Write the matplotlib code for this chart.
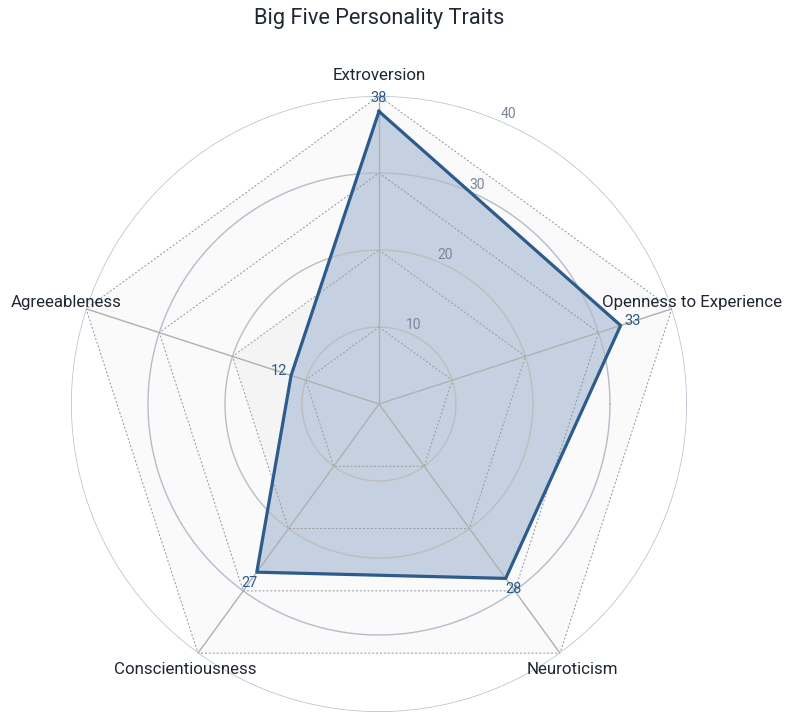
"""Radar chart of Big Five personality trait scores."""

import numpy as np
import matplotlib.pyplot as plt

plt.rcParams["font.family"] = ["Roboto", "DejaVu Sans"]

TRAITS = ["Extroversion", "Openness to Experience", "Neuroticism",
          "Conscientiousness", "Agreeableness"]
SCORES = [38, 33, 28, 27, 12]
RING_LEVELS = [10, 20, 30, 40]
RING_LABELS = ["10", "20", "30", "40"]

LINE_COLOUR = "#2c5b8c"
FILL_COLOUR = "#c5d1e0"
TEXT_COLOUR = "#1f2733"
TICK_COLOUR = "#7a869c"


def trait_angles(count):
    """Angles (radians) running clockwise from the top."""
    return np.pi / 2 - np.arange(count) * 2 * np.pi / count


def main():
    figure = plt.figure(figsize=(7.93, 7.24), dpi=100)
    axes = figure.add_axes([0.0895, 0.0166, 0.7768, 0.8508], projection="polar")
    axes.set_ylim(0, 40)
    axes.axis("off")

    angles = trait_angles(len(TRAITS))
    closed = np.append(angles, angles[0])
    full_circle = np.linspace(0, 2 * np.pi, 361)

    # pentagon bands
    axes.fill(closed, [40] * len(closed), color="#fafafa", zorder=0, lw=0)
    axes.fill(closed, [20] * len(closed), color="#f4f4f4", zorder=0, lw=0)

    scores_closed = SCORES + SCORES[:1]
    axes.fill(closed, scores_closed, color=FILL_COLOUR, zorder=1, lw=0)

    for level in RING_LEVELS:
        ring_colour = "#b4bccb" if level >= 30 else "#bdbdbd"
        axes.plot(full_circle, [level] * len(full_circle), color=ring_colour,
                  lw=1.0, zorder=2)
        pentagon_colour = "#8a94a8" if level >= 30 else "#9a9a9a"
        axes.plot(closed, [level] * len(closed), color=pentagon_colour,
                  lw=0.7, ls=(0, (2, 2)), zorder=2)

    for angle in angles:
        axes.plot([angle, angle], [0, 40], color="#b0b0b0", lw=1.0, zorder=2)

    tick_angle = np.deg2rad(66)
    for level, label in zip(RING_LEVELS, RING_LABELS):
        axes.text(tick_angle, level + 1.2, label, color=TICK_COLOUR, fontsize=10,
                  ha="center", va="center", zorder=5)

    axes.plot(closed, scores_closed, color=LINE_COLOUR, lw=2.3, zorder=3)

    for angle, score in zip(angles, SCORES):
        axes.text(angle, score + 1.7, str(score), color=LINE_COLOUR, fontsize=10.5,
                  ha="center", va="center", zorder=5)

    for angle, trait in zip(angles, TRAITS):
        axes.text(angle, 42.7, trait, color=TEXT_COLOUR, fontsize=12.2,
                  ha="center", va="center", zorder=5)

    figure.text(0.478, 0.975, "Big Five Personality Traits", color=TEXT_COLOUR,
                fontsize=15.7, ha="center", va="center")

    figure.savefig("out.png", dpi=100)
    plt.close(figure)


if __name__ == "__main__":
    main()
